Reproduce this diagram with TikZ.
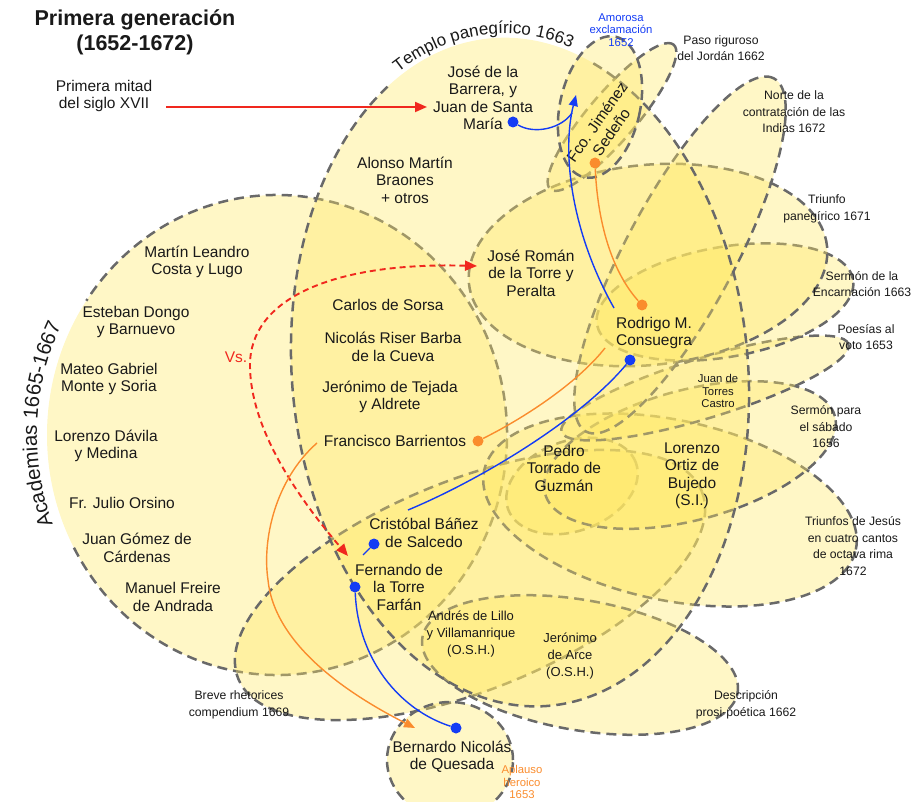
\documentclass[tikz,border=0pt]{standalone}
\usepackage{fontspec}
\setmainfont{Liberation Sans}
\usetikzlibrary{arrows.meta,decorations.text}

\definecolor{obra}{RGB}{255,232,100}
\definecolor{borde}{RGB}{105,105,105}
\definecolor{tinta}{RGB}{25,25,25}
\definecolor{azul}{RGB}{20,60,245}
\definecolor{naranja}{RGB}{250,140,45}
\definecolor{rojo}{RGB}{240,40,30}

\newcommand\letranombre{\fontsize{15.5}{17.5}\selectfont}
\newcommand\letraosh{\fontsize{13}{17}\selectfont}
\newcommand\letraobra{\fontsize{12.2}{16.5}\selectfont}
\newcommand\letrachica{\fontsize{11.3}{12.2}\selectfont}
\newcommand\letragrande{\fontsize{20.5}{24}\selectfont}
\newcommand\letratitulo{\bfseries\fontsize{21.5}{25}\selectfont}

\tikzset{
  relleno/.style={fill=obra,fill opacity=.37},
  contorno/.style={draw=borde,line width=2.5pt,dash pattern=on 10pt off 6pt},
  conjunto/.style={relleno,contorno},
  nombre/.style={align=center,inner sep=0pt,text=tinta,font=\letranombre},
  osh/.style={nombre,font=\letraosh},
  rotulo/.style={nombre,font=\letraobra},
  chico/.style={nombre,font=\letrachica},
  puntoazul/.style={circle,fill=azul,inner sep=0pt,minimum size=11pt},
  puntonaranja/.style={circle,fill=naranja,inner sep=0pt,minimum size=11pt},
  lazoazul/.style={draw=azul,line width=1.4pt},
  lazonaranja/.style={draw=naranja,line width=1.4pt},
  punta/.style={-{Triangle[length=11pt,width=9pt]}},
  flecharoja/.style={draw=rojo,line width=1.9pt}
}

\begin{document}
\begin{tikzpicture}[x=1pt,y=-1pt]
  \useasboundingbox (0,0) rectangle (921,802);
  \clip (0,0) rectangle (921,802);

  % obras
  \fill[relleno] (277,435) ellipse [x radius=230pt,y radius=240pt];
  \draw[contorno,shift={(277,435)}] (208:230pt and 240pt)
        arc[start angle=208,end angle=506,x radius=230pt,y radius=240pt];
  \path[conjunto,shift={(572,486)},rotate=20] (0,0) ellipse [x radius=68pt,y radius=45pt];
  \path[conjunto,shift={(470,585)},rotate=22] (0,0) ellipse [x radius=250pt,y radius=105pt];
  \path[conjunto,shift={(580,665)},rotate=-10] (0,0) ellipse [x radius=160pt,y radius=65pt];
  \path[conjunto,shift={(670,510)},rotate=-12] (0,0) ellipse [x radius=190pt,y radius=90pt];
  \path[conjunto,shift={(690,455)},rotate=15] (0,0) ellipse [x radius=150pt,y radius=65pt];
  \path[conjunto,shift={(705,388)},rotate=17] (0,0) ellipse [x radius=150pt,y radius=30pt];
  \path[conjunto,shift={(725,302)},rotate=10] (0,0) ellipse [x radius=130pt,y radius=55pt];
  \path[conjunto,shift={(648,265)},rotate=6] (0,0) ellipse [x radius=180pt,y radius=100pt];
  \path[conjunto,shift={(680,255)},rotate=62] (0,0) ellipse [x radius=200pt,y radius=55pt];
  \path[conjunto,shift={(612,117)},rotate=49.5] (0,0) ellipse [x radius=95pt,y radius=24pt];
  \fill[relleno,shift={(520,372)},rotate=5] (0,0) ellipse [x radius=228pt,y radius=335pt];
  \draw[contorno,shift={(520,372)},rotate=5] (64:228pt and 335pt)
        arc[start angle=64,end angle=-242,x radius=228pt,y radius=335pt];
  \path[conjunto,shift={(600,107)},rotate=-12.7] (0,0) ellipse [x radius=40pt,y radius=72pt];
  \path[conjunto] (450,760) ellipse [x radius=63pt,y radius=58pt];

  \path[shift={(277,435)},decorate,decoration={text along path,text align=center,
        text={|\letragrande\color{tinta}|Academias 1665-1667}}]
        (205:240pt and 250pt) arc[start angle=205,end angle=150,x radius=240pt,y radius=250pt];
  \path[shift={(520,372)},rotate=5,decorate,decoration={text along path,text align=center,
        text={|\fontsize{17}{20}\selectfont\color{tinta}|Templo panegírico 1663}}]
        (122:232pt and 339pt) arc[start angle=122,end angle=62,x radius=232pt,y radius=339pt];

  % autores
  \node[nombre,font=\letratitulo] (titulo) at (135,32) {Primera generación\\(1652-1672)};
  \node[nombre] (mitad) at (104,96) {Primera mitad\\del siglo XVII};
  \node[nombre] (barrera) at (483,98) {José de la\\Barrera, y\\Juan de Santa\\María};
  \node[nombre] (alonso) at (405,180) {Alonso Martín\\Braones\\+ otros};
  \node[nombre] (leandro) at (197,262) {Martín Leandro\\Costa y Lugo};
  \node[nombre] (dongo) at (136,322) {Esteban Dongo\\y Barnuevo};
  \node[nombre] (mateo) at (109,379) {Mateo Gabriel\\Monte y Soria};
  \node[nombre] (davila) at (106,446) {Lorenzo Dávila\\y Medina};
  \node[nombre] (orsino) at (122,503) {Fr. Julio Orsino};
  \node[nombre] (gomez) at (137,548) {Juan Gómez de\\Cárdenas};
  \node[nombre] (freire) at (173,597) {Manuel Freire\\de Andrada};
  \node[nombre] (sorsa) at (388,305) {Carlos de Sorsa};
  \node[nombre] (riser) at (393,347) {Nicolás Riser Barba\\de la Cueva};
  \node[nombre] (tejada) at (390,397) {Jerónimo de Tejada\\y Aldrete};
  \node[nombre] (barrientos) at (395,441) {Francisco Barrientos};
  \node[nombre] (roman) at (531,273) {José Román\\de la Torre y\\Peralta};
  \node[nombre] (rodrigo) at (654,333) {Rodrigo M.\\Consuegra};
  \node[chico] (torres) at (718,391) {Juan de\\Torres\\Castro};
  \node[nombre] (torrado) at (564,468) {Pedro\\Torrado de\\Guzmán};
  \node[nombre] (ortiz) at (692,476) {Lorenzo\\Ortiz de\\Bujedo\\(S.I.)};
  \node[nombre] (cristobal) at (424,533) {Cristóbal Báñez\\de Salcedo};
  \node[nombre] (fernando) at (399,587) {Fernando de\\la Torre\\Farfán};
  \node[osh] (lillo) at (471,634) {Andrés de Lillo\\y Villamanrique\\(O.S.H.)};
  \node[osh] (arce) at (570,656) {Jerónimo\\de Arce\\(O.S.H.)};
  \node[nombre] (bernardo) at (452,757) {Bernardo Nicolás\\de Quesada};
  \node[nombre,rotate=55] (fco) at (604,127) {Fco. Jiménez\\Sedeño};
  \node[nombre,text=rojo] (vs) at (236,357) {Vs.};

  % obras, rotulos
  \node[chico,text=azul] (amorosa) at (621,30) {Amorosa\\exclamación\\1652};
  \node[rotulo] (paso) at (721,48) {Paso riguroso\\del Jordán 1662};
  \node[rotulo] (norte) at (794,112) {Norte de la\\contratación de las\\Indias 1672};
  \node[rotulo] (triunfo) at (827,209) {Triunfo\\panegírico 1671};
  \node[rotulo] (encarnacion) at (862,284) {Sermón de la\\Encarnación 1663};
  \node[rotulo] (poesias) at (866,337) {Poesías al\\voto 1653};
  \node[rotulo] (sabado) at (826,427) {Sermón para\\el sábado\\1656};
  \node[rotulo] (jesus) at (853,546) {Triunfos de Jesús\\en cuatro cantos\\de octava rima\\1672};
  \node[rotulo] (descripcion) at (746,705) {Descripción\\prosi-poética 1662};
  \node[rotulo] (breve) at (239,705) {Breve rhetorices\\compendium 1669};
  \node[chico,text=naranja] (aplauso) at (522,782) {Aplauso\\heroico\\1653};

  % enlaces
  \coordinate (salidaMitad) at (166,107);
  \coordinate (llegadaBarrera) at (427,107);
  \coordinate (llegadaRoman) at (477,266);
  \coordinate (llegadaCristobal) at (348,556);
  \coordinate (puntaAmorosa) at (576,95);
  \coordinate (unionAzul) at (572,113);
  \coordinate (salidaRodrigo) at (614,308);
  \coordinate (finBarrientos) at (605,348);
  \coordinate (finRodrigo) at (408,510);
  \coordinate (colaCristobal) at (363,555);
  \coordinate (salidaBarrientos) at (317,443);
  \coordinate (llegadaBernardo) at (415,728);

  \node[puntoazul] (pBarrera) at (513,122) {};
  \node[puntoazul] (pRodrigo) at (630,360) {};
  \node[puntoazul] (pCristobal) at (374,544) {};
  \node[puntoazul] (pFernando) at (355,587) {};
  \node[puntoazul] (pBernardo) at (456,728) {};
  \node[puntonaranja] (pFco) at (595,163) {};
  \node[puntonaranja] (pRodrigoN) at (642,305) {};
  \node[puntonaranja] (pBarrientos) at (478,441) {};

  \draw[flecharoja,-{Triangle[length=12pt,width=10pt]}] (salidaMitad) -- (llegadaBarrera);
  \draw[flecharoja,dash pattern=on 6pt off 4pt,
        {Triangle[length=12pt,width=10pt]}-{Triangle[length=12pt,width=10pt]}]
        (llegadaRoman) .. controls (330,262) and (250,300) .. (250,365)
        .. controls (250,430) and (300,500) .. (llegadaCristobal);
  \draw[lazoazul] (pBarrera) .. controls (535,135) and (562,128) .. (unionAzul);
  \draw[lazoazul,punta] (salidaRodrigo) .. controls (570,230) and (562,150) .. (puntaAmorosa);
  \draw[lazonaranja] (pFco) .. controls (598,230) and (615,275) .. (pRodrigoN);
  \draw[lazonaranja] (pBarrientos) .. controls (530,415) and (580,380) .. (finBarrientos);
  \draw[lazoazul] (pRodrigo) .. controls (580,420) and (480,480) .. (finRodrigo);
  \draw[lazoazul] (pCristobal) -- (colaCristobal);
  \draw[lazoazul] (pFernando) .. controls (358,660) and (400,710) .. (pBernardo);
  \draw[lazonaranja,punta] (salidaBarrientos) .. controls (275,480) and (262,540) .. (268,580)
        .. controls (275,650) and (360,700) .. (llegadaBernardo);
\end{tikzpicture}
\end{document}
